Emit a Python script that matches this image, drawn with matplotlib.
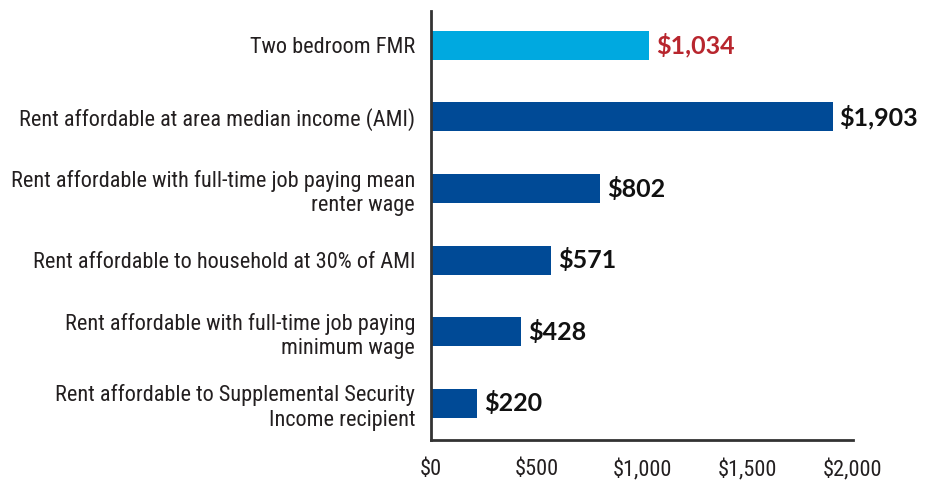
import matplotlib.pyplot as plt
from matplotlib import font_manager

# ---------- Data ----------
categories = [
    "Two bedroom FMR",
    "Rent affordable at area median income (AMI)",
    "Rent affordable with full-time job paying mean\nrenter wage",
    "Rent affordable to household at 30% of AMI",
    "Rent affordable with full-time job paying\nminimum wage",
    "Rent affordable to Supplemental Security\nIncome recipient",
]
values = [1034, 1903, 802, 571, 428, 220]
bar_colors = ["#00A9E0", "#004A96", "#004A96", "#004A96", "#004A96", "#004A96"]
label_colors = ["#B8262E", "#111111", "#111111", "#111111", "#111111", "#111111"]
xticks = [0, 500, 1000, 1500, 2000]

# ---------- Fonts (pick a narrow face if one is there) ----------
names = {f.name for f in font_manager.fontManager.ttflist}
candidates = ["Roboto Condensed", "Fira Sans Condensed", "Open Sans Condensed",
              "Liberation Sans Narrow", "Arial Narrow", "PT Sans Narrow",
              "Archivo Narrow", "Roboto"]
narrow = next((c for c in candidates if c in names), "DejaVu Sans")
plt.rcParams["font.family"] = [narrow, "DejaVu Sans"]

# ---------- Plot ----------
fig = plt.figure(figsize=(9.28, 4.83), dpi=100)
ax = fig.add_axes([431 / 928, 1 - 440 / 483, 422 / 928, 429 / 483])

pos = list(range(len(categories)))
ax.barh(pos, values, height=0.405, color=bar_colors)

for p, v, c in zip(pos, values, label_colors):
    ax.annotate(f"${v:,}", (v, p), xytext=(5, 0), textcoords="offset points",
                va="center", ha="left", fontsize=18, fontweight="bold", color=c,
                family=["Lato", "DejaVu Sans"])

ax.set_ylim(5.51, -0.48)
ax.set_xlim(0, 2000)
ax.set_yticks(pos)
ax.set_yticklabels(categories, fontsize=16, color="#231F20", linespacing=1.22)
ax.set_xticks(xticks)
ax.set_xticklabels([f"${t:,}" for t in xticks], fontsize=16, color="#231F20")
ax.tick_params(axis="both", length=0)
ax.tick_params(axis="y", pad=11.5)
ax.tick_params(axis="x", pad=14)

for s in ["top", "right"]:
    ax.spines[s].set_visible(False)
for s in ["left", "bottom"]:
    ax.spines[s].set_color("#333333")
    ax.spines[s].set_linewidth(2)

fig.savefig("out.png", dpi=100)
